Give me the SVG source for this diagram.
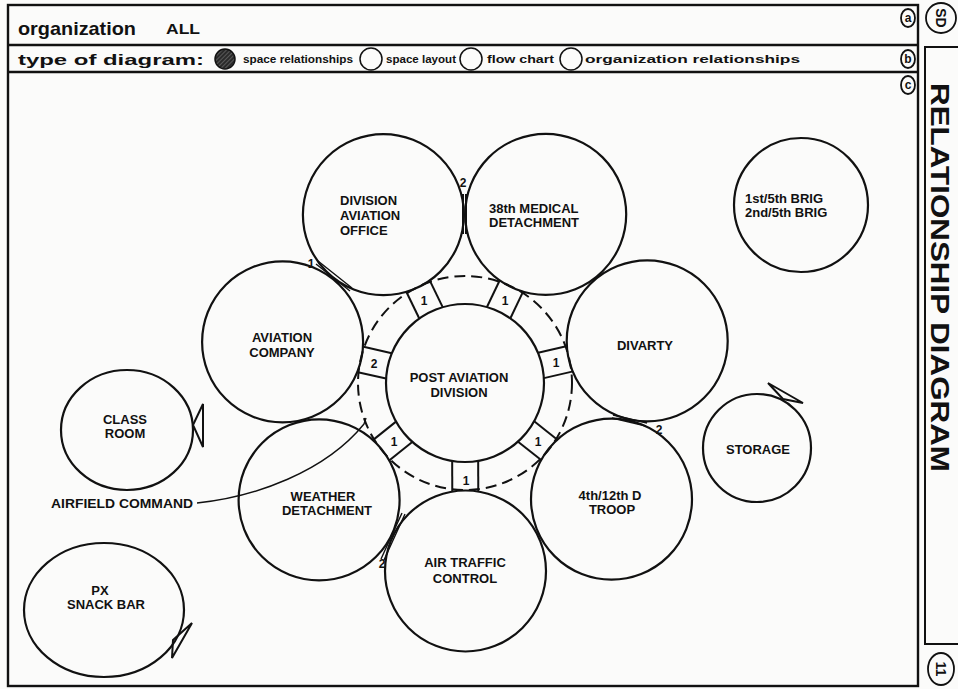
<svg xmlns="http://www.w3.org/2000/svg" width="958" height="689" viewBox="0 0 958 689">
<defs>
<style>
.c{fill:none;stroke:#111;stroke-width:2.2}
.ln{fill:none;stroke:#111;stroke-width:2}
.thin{fill:none;stroke:#111;stroke-width:1.4}
.fr{fill:none;stroke:#111;stroke-width:2.4}
.t{font-family:"Liberation Sans",Arial,Helvetica,sans-serif;font-weight:bold;font-size:13px;fill:#111}
.m{text-anchor:middle}
.s{font-size:12px}
.h{font-family:"Liberation Sans",Arial,Helvetica,sans-serif;font-weight:bold;fill:#111}
</style>
<pattern id="hatch" width="3" height="3" patternUnits="userSpaceOnUse" patternTransform="rotate(45)">
<rect width="3" height="3" fill="#2a2a2a"/>
<line x1="0" y1="0" x2="0" y2="3" stroke="#888" stroke-width="1"/>
</pattern>
</defs>
<rect width="958" height="689" fill="#fbfbfa"/>

<g id="frame">
<rect class="fr" x="8" y="5" width="910" height="681"/>
<line class="fr" x1="8" y1="45" x2="918" y2="45"/>
<line class="fr" x1="8" y1="72" x2="918" y2="72"/>
<text class="h" x="18" y="35" font-size="19" textLength="118" lengthAdjust="spacingAndGlyphs">organization</text>
<text class="h" x="166" y="34" font-size="15" textLength="34" lengthAdjust="spacingAndGlyphs">ALL</text>
<text class="h" x="18" y="65" font-size="15" textLength="186" lengthAdjust="spacingAndGlyphs">type of diagram:</text>
<circle cx="225" cy="59" r="10" fill="url(#hatch)" stroke="#111" stroke-width="1.5"/>
<text class="h" x="243" y="63" font-size="11" textLength="110" lengthAdjust="spacingAndGlyphs">space relationships</text>
<circle cx="371" cy="59" r="11" fill="none" stroke="#111" stroke-width="1.5"/>
<text class="h" x="386" y="63" font-size="11" textLength="70" lengthAdjust="spacingAndGlyphs">space layout</text>
<circle cx="471" cy="59" r="11" fill="none" stroke="#111" stroke-width="1.5"/>
<text class="h" x="487" y="63" font-size="11" textLength="67" lengthAdjust="spacingAndGlyphs">flow chart</text>
<circle cx="571" cy="59" r="11" fill="none" stroke="#111" stroke-width="1.5"/>
<text class="h" x="585" y="63" font-size="11" textLength="215" lengthAdjust="spacingAndGlyphs">organization relationships</text>
<ellipse cx="908" cy="18" rx="7" ry="9" fill="none" stroke="#111" stroke-width="1.8"/>
<text class="h" x="908" y="22" font-size="12" text-anchor="middle">a</text>
<ellipse cx="908" cy="59" rx="7" ry="9" fill="none" stroke="#111" stroke-width="1.8"/>
<text class="h" x="908" y="63" font-size="12" text-anchor="middle">b</text>
<ellipse cx="908" cy="85" rx="7" ry="9" fill="none" stroke="#111" stroke-width="1.8"/>
<text class="h" x="908" y="89" font-size="12" text-anchor="middle">c</text>
<circle cx="941" cy="18" r="15" fill="none" stroke="#111" stroke-width="1.8"/>
<text class="h" font-size="14" text-anchor="middle" transform="translate(936,18) rotate(90)">SD</text>
<rect x="925" y="47" width="40" height="597" fill="none" stroke="#111" stroke-width="2"/>
<text class="h" font-size="26" transform="translate(931,83) rotate(90)" textLength="389" lengthAdjust="spacingAndGlyphs">RELATIONSHIP DIAGRAM</text>
<ellipse cx="941" cy="669" rx="13" ry="16" fill="none" stroke="#111" stroke-width="1.8"/>
<text class="h" font-size="14" text-anchor="middle" transform="translate(936,669) rotate(90)">11</text>
</g>

<g id="node-post-aviation-division">
<circle class="c" cx="465" cy="383" r="79"/>
<circle cx="465" cy="383" r="107" fill="none" stroke="#111" stroke-width="2" stroke-dasharray="11 6"/>
<text class="t m" x="459" y="382">POST AVIATION</text>
<text class="t m" x="459" y="397">DIVISION</text>
</g>
<g id="node-divarty">
<circle class="c" cx="647.2" cy="340.9" r="80.5"/>
<text class="t m" x="645" y="350">DIVARTY</text>
</g>
<g id="node-4th-12th-troop">
<circle class="c" cx="611.5" cy="499.2" r="80.5"/>
<text class="t m" x="610" y="500">4th/12th D</text>
<text class="t m" x="612" y="514">TROOP</text>
</g>
<g id="node-air-traffic-control">
<circle class="c" cx="465.5" cy="571" r="80.5"/>
<text class="t m" x="465" y="567">AIR TRAFFIC</text>
<text class="t m" x="465" y="583">CONTROL</text>
</g>
<g id="node-weather-detachment">
<circle class="c" cx="319.1" cy="499.9" r="80.5"/>
<text class="t m" x="323" y="501">WEATHER</text>
<text class="t m" x="327" y="515">DETACHMENT</text>
</g>
<g id="node-aviation-company">
<circle class="c" cx="282.6" cy="341.9" r="80.5"/>
<text class="t m" x="282" y="342">AVIATION</text>
<text class="t m" x="282" y="357">COMPANY</text>
</g>
<g id="node-division-aviation-office">
<circle class="c" cx="383.4" cy="214.7" r="80.5"/>
<text class="t" x="340" y="205">DIVISION</text>
<text class="t" x="340" y="220">AVIATION</text>
<text class="t" x="340" y="235">OFFICE</text>
</g>
<g id="node-38th-medical-detachment">
<circle class="c" cx="545.7" cy="214.3" r="80.5"/>
<text class="t" x="489" y="213">38th MEDICAL</text>
<text class="t" x="489" y="227">DETACHMENT</text>
</g>
<g id="node-brig">
<circle class="c" cx="801" cy="205" r="67"/>
<text class="t" x="745" y="203" font-size="12">1st/5th BRIG</text>
<text class="t" x="745" y="217" font-size="12">2nd/5th BRIG</text>
</g>
<g id="node-storage">
<circle class="c" cx="757" cy="448" r="54"/>
<text class="t m" x="758" y="454">STORAGE</text>
<path class="ln" d="M768,383 L803,403 L783,399 Z"/>
</g>
<g id="node-class-room">
<ellipse class="c" cx="127" cy="430" rx="66" ry="60"/>
<text class="t m" x="125" y="424">CLASS</text>
<text class="t m" x="125" y="438">ROOM</text>
<path class="ln" d="M193,425 L203,404 L203,447 Z"/>
</g>
<g id="node-px-snack-bar">
<ellipse class="c" cx="104" cy="610" rx="80" ry="67"/>
<text class="t m" x="100" y="595">PX</text>
<text class="t m" x="106" y="609">SNACK BAR</text>
<path class="ln" d="M173,640 L192,623 L172,658 Z"/>
</g>
<g id="label-airfield-command">
<text class="t" x="51" y="508" textLength="142" lengthAdjust="spacingAndGlyphs">AIRFIELD COMMAND</text>
</g>

<g id="connectors">
<g transform="translate(465,383) rotate(-13)"><line class="ln" x1="78" y1="-13" x2="108" y2="-13"/><line class="ln" x1="78" y1="13" x2="108" y2="13"/></g>
<g transform="translate(465,383) rotate(38.43)"><line class="ln" x1="78" y1="-13" x2="108" y2="-13"/><line class="ln" x1="78" y1="13" x2="108" y2="13"/></g>
<g transform="translate(465,383) rotate(89.86)"><line class="ln" x1="78" y1="-13" x2="108" y2="-13"/><line class="ln" x1="78" y1="13" x2="108" y2="13"/></g>
<g transform="translate(465,383) rotate(141.29)"><line class="ln" x1="78" y1="-13" x2="108" y2="-13"/><line class="ln" x1="78" y1="13" x2="108" y2="13"/></g>
<g transform="translate(465,383) rotate(192.71)"><line class="ln" x1="78" y1="-13" x2="108" y2="-13"/><line class="ln" x1="78" y1="13" x2="108" y2="13"/></g>
<g transform="translate(465,383) rotate(244.14)"><line class="ln" x1="78" y1="-13" x2="108" y2="-13"/><line class="ln" x1="78" y1="13" x2="108" y2="13"/></g>
<g transform="translate(465,383) rotate(295.57)"><line class="ln" x1="78" y1="-13" x2="108" y2="-13"/><line class="ln" x1="78" y1="13" x2="108" y2="13"/></g>
<text class="t m s" x="556" y="367">1</text>
<text class="t m s" x="538" y="446">1</text>
<text class="t m s" x="466" y="485">1</text>
<text class="t m s" x="394" y="446">1</text>
<text class="t m s" x="374" y="368">2</text>
<text class="t m s" x="424" y="305">1</text>
<text class="t m s" x="505" y="305">1</text>

<path class="ln" d="M463,194 L463,234 M466,194 L466,234"/>
<text class="t m s" x="463" y="187">2</text>
<path class="thin" d="M316,264 L350,291 M318,261 L352,288"/>
<text class="t m s" x="311" y="268">1</text>
<path class="thin" d="M613,415 L647,423 M612,418 L646,426"/>
<text class="t m s" x="659" y="434">2</text>
<path class="thin" d="M402,513 L381,559 M405,514 L384,560"/>
<text class="t m s" x="382" y="568">2</text>

<path class="thin" d="M197,503 C255,497 325,472 364,424 L366,418"/>
</g>
</svg>
